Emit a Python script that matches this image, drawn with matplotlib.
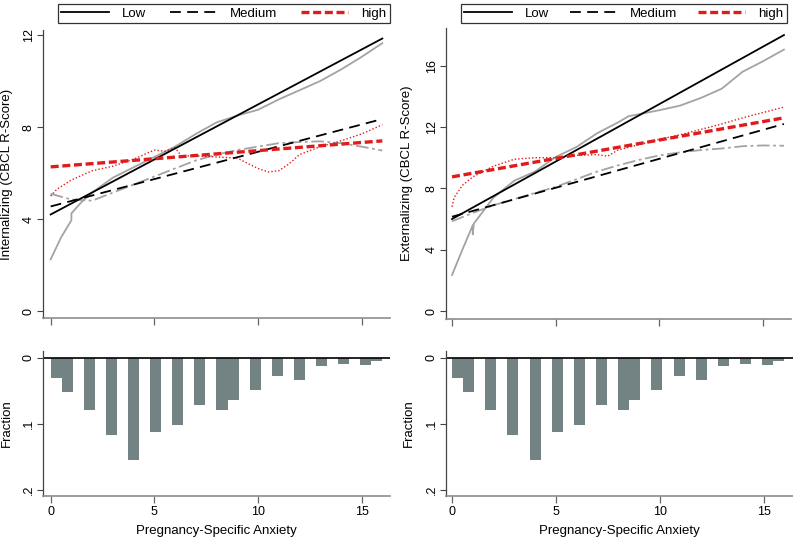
import matplotlib
matplotlib.use("Agg")
import matplotlib.pyplot as plt
from matplotlib.lines import Line2D

plt.rcParams["font.family"] = ["Liberation Sans", "DejaVu Sans"]
plt.rcParams["font.size"] = 9

# ── data ──────────────────────────────────────────────────────────────────
# fitted lines (end points at anxiety 0 and 16)
fit_x = [0, 16]
int_low_fit = [4.2, 11.85]
int_med_fit = [4.55, 8.35]
int_high_fit = [6.27, 7.4]
ext_low_fit = [6.0, 18.0]
ext_med_fit = [6.15, 12.2]
ext_high_fit = [8.75, 12.6]

# smoothed (lowess) curves
int_low_sx = [0, 0.5, 1, 1.0, 1.5, 2, 3, 4, 5, 6, 7, 8, 9, 10, 11, 12, 13, 14, 15, 16]
int_low_sy = [2.25, 3.2, 3.95, 4.25, 4.75, 5.15, 5.8, 6.25, 6.7, 7.15, 7.7, 8.2, 8.5,
              8.75, 9.2, 9.6, 10.0, 10.5, 11.05, 11.65]
int_med_sx = [0, 1, 2, 3, 4, 5, 6, 7, 8, 9, 10, 11, 12, 13, 14, 15, 16]
int_med_sy = [5.1, 4.85, 4.8, 5.15, 5.5, 5.85, 6.2, 6.55, 6.8, 7.0, 7.15, 7.3, 7.35,
              7.38, 7.3, 7.15, 6.98]
int_high_sx = [0, 0.3, 1, 2, 3, 4, 5, 5.5, 6, 6.3, 7, 8, 9, 10, 10.5, 11, 11.5, 12, 13,
               14, 15, 16]
int_high_sy = [5.0, 5.3, 5.7, 6.1, 6.3, 6.6, 7.0, 6.95, 7.1, 6.75, 6.75, 6.7, 6.65, 6.2,
               6.05, 6.1, 6.4, 6.8, 7.15, 7.4, 7.7, 8.1]

ext_low_sx = [0, 0.5, 1, 1.0, 1.05, 2, 3, 4, 5, 6, 7, 8, 8.5, 10, 11, 12, 13, 14, 15, 16]
ext_low_sy = [2.35, 4.0, 5.6, 5.0, 5.7, 7.4, 8.5, 9.1, 10.05, 10.7, 11.6, 12.3, 12.7,
              13.1, 13.4, 13.9, 14.5, 15.6, 16.3, 17.05]
ext_med_sx = [0, 1, 2, 3, 4, 5, 6, 7, 8, 9, 10, 11, 12, 13, 14, 15, 16]
ext_med_sy = [5.85, 6.4, 6.9, 7.3, 7.7, 8.1, 8.6, 9.1, 9.5, 9.85, 10.15, 10.35, 10.5,
              10.6, 10.75, 10.8, 10.78]
ext_high_sx = [0, 0.1, 0.5, 1, 2, 3, 4, 5, 6, 7, 7.5, 8, 9, 10, 11, 12, 13, 14, 15, 16]
ext_high_sy = [6.8, 7.4, 8.2, 8.75, 9.45, 9.9, 10.0, 10.0, 10.15, 10.2, 10.1, 10.5,
               10.85, 11.2, 11.5, 11.85, 12.2, 12.6, 12.95, 13.3]

# distribution of pregnancy-specific anxiety
scores = list(range(17))
fraction = [0.030, 0.052, 0.079, 0.116, 0.154, 0.112, 0.102, 0.071, 0.079, 0.064,
            0.048, 0.027, 0.033, 0.012, 0.009, 0.010, 0.005]

RED = "#E01B1B"
GRAY = "#A3A3A3"
BAR = "#738384"
AXC = "#8C8C8C"

W, H = 793, 541
fig = plt.figure(figsize=(W / 100, H / 100), dpi=100)


def add_ax(l, t, r, b):
    return fig.add_axes([l / W, 1 - b / H, (r - l) / W, (b - t) / H])


def style(ax):
    for s in ("top", "right"):
        ax.spines[s].set_visible(False)
    ax.spines["left"].set_color("#444444")
    ax.spines["bottom"].set_color(AXC)
    ax.spines["left"].set_linewidth(0.9)
    ax.spines["bottom"].set_linewidth(1.2)
    ax.tick_params(axis="y", labelrotation=90, length=4, width=0.8, color="#444444",
                   pad=2)
    ax.tick_params(axis="x", length=5, width=0.9, color="#666666", pad=2)
    for lab in ax.get_yticklabels():
        lab.set_va("center")


def top_panel(ax, xlim, ylim, yticks, ylabel, fits, smooths):
    low, med, high = fits
    (lx, ly), (mx, my), (hx, hy) = smooths
    ax.plot(lx, ly, color=GRAY, lw=1.3)
    ax.plot(mx, my, color=GRAY, lw=1.3, dashes=(7, 2, 1.5, 2))
    ax.plot(hx, hy, color=RED, lw=1.0, ls=(0, (1, 1.5)))
    ax.plot(fit_x, low, color="black", lw=1.3)
    ax.plot(fit_x, med, color="black", lw=1.3, dashes=(6, 3.5))
    ax.plot(fit_x, high, color=RED, lw=2.4, dashes=(2.4, 1.1))
    ax.set_xlim(*xlim)
    ax.set_ylim(*ylim)
    ax.set_yticks(yticks)
    ax.set_xticks([0, 5, 10, 15])
    ax.set_xticklabels([])
    style(ax)
    ax.set_ylabel(ylabel, fontsize=9.5)


def bottom_panel(ax, xlim):
    ax.hist(scores, bins=30, range=(0, 16), weights=fraction, color=BAR, lw=0)
    ax.axhline(0, color="black", lw=1.2)
    ax.set_xlim(*xlim)
    ax.set_ylim(0.209, -0.0106)
    ax.set_yticks([0, 0.1, 0.2])
    ax.set_yticklabels(["0", ".1", ".2"])
    ax.set_xticks([0, 5, 10, 15])
    style(ax)
    ax.set_ylabel("Fraction", fontsize=9.5)
    ax.set_xlabel("Pregnancy-Specific Anxiety", fontsize=9.5, labelpad=5)


ax1 = add_ax(43, 30, 390, 318)
top_panel(ax1, (-0.37, 16.37), (-0.30, 12.22), [0, 4, 8, 12],
          "Internalizing (CBCL R-Score)",
          (int_low_fit, int_med_fit, int_high_fit),
          ((int_low_sx, int_low_sy), (int_med_sx, int_med_sy),
           (int_high_sx, int_high_sy)))
ax1.yaxis.set_label_coords(-30 / 347, 0.5)

ax2 = add_ax(446, 28, 791, 319)
top_panel(ax2, (-0.29, 16.34), (-0.52, 18.46), [0, 4, 8, 12, 16],
          "Externalizing (CBCL R-Score)",
          (ext_low_fit, ext_med_fit, ext_high_fit),
          ((ext_low_sx, ext_low_sy), (ext_med_sx, ext_med_sy),
           (ext_high_sx, ext_high_sy)))
ax2.yaxis.set_label_coords(-33 / 345, 0.5)

ax3 = add_ax(43, 351, 390, 496)
bottom_panel(ax3, (-0.37, 16.37))
ax3.yaxis.set_label_coords(-30 / 347, 0.5)

ax4 = add_ax(446, 351, 793, 496)
bottom_panel(ax4, (-0.29, 16.42))
ax4.yaxis.set_label_coords(-31 / 347, 0.5)

handles = [Line2D([], [], color="black", lw=1.3),
           Line2D([], [], color="black", lw=1.3, dashes=(6, 3.5)),
           Line2D([], [], color=RED, lw=2.4, dashes=(2.4, 1.1))]
labels = ["Low", "Medium", "high"]

for x0, x1 in ((58, 390), (461, 787)):
    leg = fig.legend(handles, labels, loc="lower left", ncol=3, mode="expand",
                     bbox_to_anchor=(x0 / W, 1 - 23 / H, (x1 - x0) / W, 23 / H),
                     borderaxespad=0, frameon=True, fancybox=False, framealpha=1,
                     edgecolor="#333333", handlelength=3.6, handletextpad=1.0,
                     borderpad=0.25, fontsize=9.5)
    leg.get_frame().set_linewidth(0.9)

fig.savefig("out.png", dpi=100)
